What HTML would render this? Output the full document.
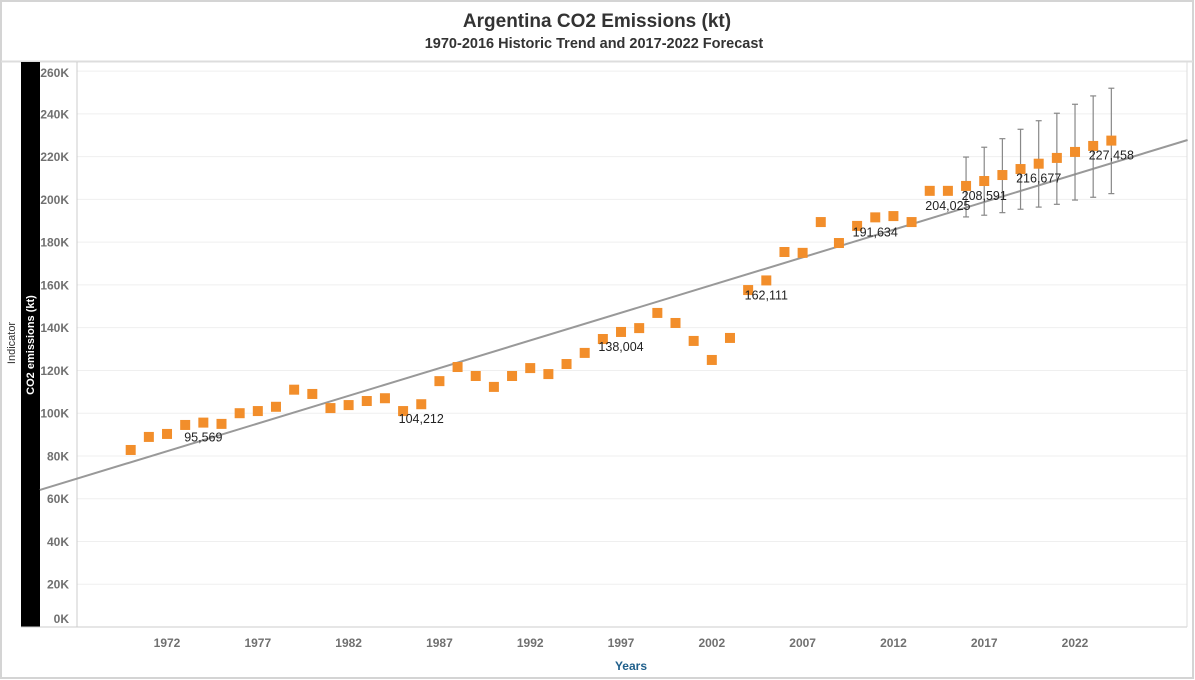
<!DOCTYPE html>
<html><head><meta charset="utf-8">
<style>
body{margin:0;background:#fff;}
svg{display:block;font-family:"Liberation Sans",sans-serif;}
</style></head>
<body>
<svg id="chart" width="1195" height="680">
<rect x="1" y="1" width="1192" height="677" fill="#fff" stroke="#d4d4d4" stroke-width="2"/>
<text x="597" y="27" text-anchor="middle" font-size="19" font-weight="bold" fill="#333">Argentina CO2 Emissions (kt)</text>
<text x="594" y="48" text-anchor="middle" font-size="14.5" font-weight="bold" fill="#333">1970-2016 Historic Trend and 2017-2022 Forecast</text>
<line x1="1" y1="61.5" x2="1193" y2="61.5" stroke="#ddd" stroke-width="2"/>
<rect x="21" y="62" width="19" height="565" fill="#000"/>
<text transform="translate(34,345) rotate(-90)" text-anchor="middle" font-size="11" font-weight="bold" fill="#fff">CO2 emissions (kt)</text>
<text transform="translate(15,343) rotate(-90)" text-anchor="middle" font-size="11" fill="#333">Indicator</text>
<g id="grid"></g>
<g id="yticks"></g>
<g id="xticks"></g>
<line x1="77" y1="62" x2="77" y2="627" stroke="#ccc"/>
<line x1="21" y1="627" x2="1187" y2="627" stroke="#ccc"/>
<line x1="1187" y1="62" x2="1187" y2="627" stroke="#ddd"/>
<g id="trend"></g>
<g id="errs"></g>
<g id="pts"></g>
<g id="labels"></g>
<text x="631" y="670" text-anchor="middle" font-size="12" font-weight="bold" fill="#1f5f8b">Years</text>
</svg>
<script>
const years = [];
for (let y = 1970; y <= 2024; y++) years.push(y);
const values = [82.8,88.9,90.3,94.5,95.6,95.0,100.0,101.0,103.0,111.0,109.0,102.4,103.8,105.7,107.0,101.0,104.2,115.0,121.6,117.4,112.3,117.4,121.1,118.3,123.0,128.2,134.7,138.0,139.8,146.9,142.2,133.8,124.9,135.2,157.6,162.1,175.4,175.0,189.4,179.6,187.6,191.6,192.2,189.4,204.0,204.0,206.3,208.6,211.4,214.2,216.7,219.4,222.2,225.0,227.5];
const labelYears = [1974,1986,1997,2005,2011,2015,2017,2020,2024];
const labelText = ["95,569","104,212","138,004","162,111","191,634","204,025","208,591","216,677","227,458"];
const errYears = [2016,2017,2018,2019,2020,2021,2022,2023,2024];
const errHigh = [219.8,224.4,228.4,232.8,236.8,240.3,244.5,248.4,252.0];
const errLow = [191.8,192.6,193.8,195.4,196.4,197.7,199.7,201.0,202.7];
const yTicks = [0,20,40,60,80,100,120,140,160,180,200,220,240,260];
const xTicks = [1972,1977,1982,1987,1992,1997,2002,2007,2012,2017,2022];
const trendStartYear = 1965.0, trendStartValue = 64.1, trendSlope = 2.59, trendEndYear = 2028.2;

const NS = "http://www.w3.org/2000/svg";
const X = yr => 130.7 + (yr - 1970) * 18.16;
const Y = v => 627 - v * 2.138;
function mk(tag, attrs, parent, text){
  const e = document.createElementNS(NS, tag);
  for (const k in attrs) e.setAttribute(k, attrs[k]);
  if (text !== undefined) e.textContent = text;
  document.getElementById(parent).appendChild(e);
  return e;
}
yTicks.forEach(t => {
  const g = mk("line", {x1:77, x2:1187, y1:Y(t), y2:Y(t), stroke:"#efefef"}, "grid");
  
  
  const ly = Math.min(Math.max(Y(t) + 4.5, 77), 623);
  const l = mk("text", {x:69, y:ly, "text-anchor":"end", "font-size":"12", "font-weight":"bold", fill:"#707070"}, "yticks", t + "K");
  
  
});
xTicks.forEach(t => {
  const l = mk("text", {x:X(t), y:647, "text-anchor":"middle", "font-size":"12", "font-weight":"bold", fill:"#707070"}, "xticks", String(t));
  
  
});
const tl = mk("line", {x1:X(trendStartYear), y1:Y(trendStartValue), x2:X(trendEndYear), y2:Y(trendStartValue + trendSlope*(trendEndYear-trendStartYear)), stroke:"#999", "stroke-width":2}, "trend");


errYears.forEach((yr, i) => {
  const x = X(yr);
  const g = mk("g", {stroke:"#888", "stroke-width":1.2}, "errs");
  
  
  const a = document.createElementNS(NS, "line");
  a.setAttribute("x1", x); a.setAttribute("x2", x); a.setAttribute("y1", Y(errHigh[i])); a.setAttribute("y2", Y(errLow[i]));
  g.appendChild(a);
  [errHigh[i], errLow[i]].forEach(v => {
    const c = document.createElementNS(NS, "line");
    c.setAttribute("x1", x-3); c.setAttribute("x2", x+3); c.setAttribute("y1", Y(v)); c.setAttribute("y2", Y(v));
    g.appendChild(c);
  });
});
years.forEach((yr, i) => {
  const r = mk("rect", {x:X(yr)-5, y:Y(values[i])-5, width:10, height:10, fill:"#f28e2b"}, "pts");
  
  
});
labelYears.forEach((yr, i) => {
  const v = values[years.indexOf(yr)];
  const t = mk("text", {x:X(yr), y:Y(v)+19, "text-anchor":"middle", "font-size":"12.5", fill:"#222"}, "labels", labelText[i]);
  
  
});
</script>
</body></html>
